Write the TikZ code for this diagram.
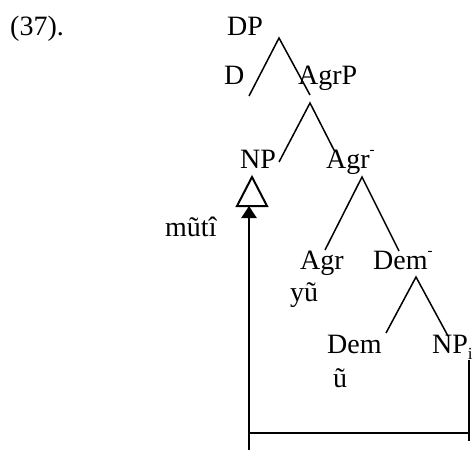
\documentclass[tikz,border=0pt]{standalone}
\usepackage{fontspec}
\setmainfont{Liberation Serif}
\usetikzlibrary{arrows.meta}
\newcommand{\barsup}{\raisebox{0.5em}{\fontsize{15}{15}\selectfont -}}
\newcommand{\subi}{\raisebox{-0.22em}{\fontsize{17}{17}\selectfont i}}
\begin{document}
\begin{tikzpicture}[x=1pt,y=-1pt,
  lbl/.style={anchor=base west,inner sep=0pt,font=\fontsize{28}{32}\selectfont},
  branch/.style={line width=1.5pt},
  move/.style={line width=2.6pt},
  bar/.style={line width=2pt}]
\useasboundingbox (0,0) rectangle (474,450);
% labels
\node[lbl] (ex) at (10,35) {(37).};
\node[lbl] (dp) at (227,35) {DP};
\node[lbl] (d) at (224,84) {D};
\node[lbl] (agrp) at (298,84) {AgrP};
\node[lbl] (np) at (240,168) {NP};
\node[lbl] (agrbar) at (326,168) {Agr\barsup};
\node[lbl] (muti) at (165,236) {mũtî};
\node[lbl] (agr) at (300,269) {Agr};
\node[lbl] (yu) at (290,301) {yũ};
\node[lbl] (dembar) at (373,269) {Dem\barsup};
\node[lbl] (dem) at (327,353) {Dem};
\node[lbl] (u) at (333,387) {ũ};
\node[lbl] (npi) at (432,353) {NP\subi};
% branch points
\coordinate (dpA) at (279,38);
\coordinate (dpL) at (249,96);
\coordinate (dpR) at (310,95);
\coordinate (agrpA) at (310,103);
\coordinate (agrpL) at (279,162);
\coordinate (agrpR) at (335,152);
\coordinate (agrbA) at (362,177);
\coordinate (agrbL) at (325,250);
\coordinate (agrbR) at (399,251);
\coordinate (dembA) at (416,277);
\coordinate (dembL) at (386,333);
\coordinate (dembR) at (448,336);
% triangle
\coordinate (triT) at (252,177);
\coordinate (triL) at (237,206);
\coordinate (triR) at (267,206);
% movement
\coordinate (arrTip) at (249,206);
\coordinate (arrBot) at (249,450);
\coordinate (cornerL) at (249,433);
\coordinate (cornerR) at (469,433);
\coordinate (npiTop) at (469,360);
\coordinate (npiBot) at (469,441);
\draw[branch] (dpL) -- (dpA) -- (dpR);
\draw[branch] (agrpL) -- (agrpA) -- (agrpR);
\draw[branch] (agrbL) -- (agrbA) -- (agrbR);
\draw[branch] (dembL) -- (dembA) -- (dembR);
\draw[bar,line join=miter] (triT) -- (triL) -- (triR) -- cycle;
\draw[move,-{Triangle[length=12pt,width=15pt]}] (arrBot) -- (arrTip);
\draw[bar] (cornerL) -- (cornerR);
\draw[bar] (npiTop) -- (npiBot);
\end{tikzpicture}
\end{document}
